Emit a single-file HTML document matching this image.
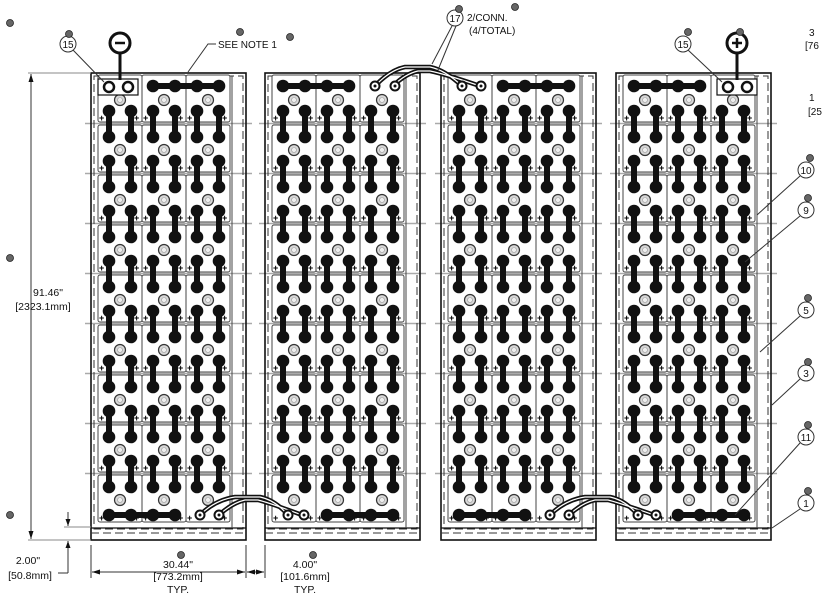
<!DOCTYPE html>
<html><head><meta charset="utf-8"><style>
html,body{margin:0;padding:0;background:#fff;}
svg{display:block;font-family:"Liberation Sans",sans-serif;}
</style></head><body>
<svg width="825" height="596" viewBox="0 0 825 596" xmlns="http://www.w3.org/2000/svg">
<defs>
  <g id="cell">
    <rect x="0" y="0" width="44" height="47" rx="2" fill="#fff" stroke="#444" stroke-width="1"/>
    <circle cx="22" cy="25" r="5.5" fill="#d8d8d8" stroke="#333" stroke-width="1.2"/>
    <circle cx="22" cy="25" r="2.5" fill="#eee" stroke="#999" stroke-width="0.6"/>
    <text x="1" y="46" font-size="9" font-weight="bold">+</text>
    <text x="36" y="46" font-size="9" font-weight="bold">+</text>
  </g>
  <g id="row">
    <use href="#cell" x="7" y="0"/><use href="#cell" x="51" y="0"/><use href="#cell" x="95" y="0"/>
  </g>
  <g id="link">
    <line x1="0" y1="0" x2="0" y2="26" stroke="#111" stroke-width="6"/>
    <circle cx="0" cy="0" r="6.3" fill="#111"/><circle cx="0" cy="26" r="6.3" fill="#111"/>
  </g>
  <g id="linkrow">
    <use href="#link" x="18"/><use href="#link" x="40"/><use href="#link" x="62"/>
    <use href="#link" x="84"/><use href="#link" x="106"/><use href="#link" x="128"/>
  </g>
  <g id="rack">
    <g stroke="#aaa" stroke-width="1.5">
      <line x1="-6" y1="50.5" x2="161" y2="50.5"/><line x1="-6" y1="100.5" x2="161" y2="100.5"/>
      <line x1="-6" y1="150.5" x2="161" y2="150.5"/><line x1="-6" y1="200.5" x2="161" y2="200.5"/>
      <line x1="-6" y1="250.5" x2="161" y2="250.5"/><line x1="-6" y1="300.5" x2="161" y2="300.5"/>
      <line x1="-6" y1="350.5" x2="161" y2="350.5"/><line x1="-6" y1="400.5" x2="161" y2="400.5"/>
    </g>
    <rect x="0" y="0" width="155" height="467" fill="none" stroke="#111" stroke-width="1.6"/>
    <rect x="3" y="3" width="149" height="453" fill="none" stroke="#333" stroke-width="1" stroke-dasharray="8,4"/>
    <line x1="0" y1="455" x2="155" y2="455" stroke="#111" stroke-width="1.2"/>
    <line x1="0" y1="460" x2="155" y2="460" stroke="#333" stroke-width="1" stroke-dasharray="8,4"/>
    <line x1="141" y1="3" x2="141" y2="455" stroke="#444" stroke-width="1"/>
    <use href="#row" y="2"/><use href="#row" y="52"/><use href="#row" y="102"/><use href="#row" y="152"/>
    <use href="#row" y="202"/><use href="#row" y="252"/><use href="#row" y="302"/><use href="#row" y="352"/><use href="#row" y="402"/>
    <use href="#linkrow" y="38"/><use href="#linkrow" y="88"/><use href="#linkrow" y="138"/><use href="#linkrow" y="188"/>
    <use href="#linkrow" y="238"/><use href="#linkrow" y="288"/><use href="#linkrow" y="338"/><use href="#linkrow" y="388"/>
  </g>
  <g id="bar2">
    <line x1="0" y1="0" x2="66" y2="0" stroke="#111" stroke-width="6"/>
    <circle cx="0" cy="0" r="6.3" fill="#111"/><circle cx="22" cy="0" r="6.3" fill="#111"/>
    <circle cx="44" cy="0" r="6.3" fill="#111"/><circle cx="66" cy="0" r="6.3" fill="#111"/>
  </g>
  <g id="lug">
    <circle cx="0" cy="0" r="4.5" fill="#fff" stroke="#111" stroke-width="2"/>
    <circle cx="0" cy="0" r="1.5" fill="#111"/>
  </g>
  <g id="term">
    <rect x="-3" y="-8" width="40" height="16" fill="#fff" stroke="#111" stroke-width="1.2"/>
    <circle cx="8" cy="0" r="5" fill="#fff" stroke="#111" stroke-width="2.5"/>
    <circle cx="27" cy="0" r="5" fill="#fff" stroke="#111" stroke-width="2.5"/>
  </g>
</defs>

<use href="#rack" x="91" y="73"/>
<use href="#rack" x="265" y="73"/>
<use href="#rack" x="441" y="73"/>
<use href="#rack" x="616" y="73"/>

<use href="#term" x="101" y="87"/>
<use href="#bar2" x="153" y="86"/>
<use href="#bar2" x="109" y="515"/>
<use href="#bar2" x="283" y="86"/>
<use href="#bar2" x="327" y="515"/>
<use href="#bar2" x="503" y="86"/>
<use href="#bar2" x="459" y="515"/>
<use href="#bar2" x="634" y="86"/>
<use href="#term" x="720" y="87"/>
<use href="#bar2" x="678" y="515"/>

<g fill="none" stroke-linecap="round">
  <g stroke="#111" stroke-width="4.5">
    <path d="M200 515 Q215 500 235 497 L 260 497 Q 275 500 288 515"/>
    <path d="M219 515 Q232 503 245 500 L 258 500 Q 270 503 302 515"/>
    <path d="M375 86 Q390 70 405 67 L 430 67 Q 445 70 462 86"/>
    <path d="M393 86 Q405 74 418 71 L 430 71 Q 445 74 480 86"/>
    <path d="M550 515 Q565 500 585 497 L 610 497 Q 625 500 638 515"/>
    <path d="M569 515 Q582 503 595 500 L 608 500 Q 620 503 654 515"/>
  </g>
  <g stroke="#fff" stroke-width="1.2">
    <path d="M200 515 Q215 500 235 497 L 260 497 Q 275 500 288 515"/>
    <path d="M219 515 Q232 503 245 500 L 258 500 Q 270 503 302 515"/>
    <path d="M375 86 Q390 70 405 67 L 430 67 Q 445 70 462 86"/>
    <path d="M393 86 Q405 74 418 71 L 430 71 Q 445 74 480 86"/>
    <path d="M550 515 Q565 500 585 497 L 610 497 Q 625 500 638 515"/>
    <path d="M569 515 Q582 503 595 500 L 608 500 Q 620 503 654 515"/>
  </g>
</g>
<use href="#lug" x="200" y="515"/><use href="#lug" x="219" y="515"/>
<use href="#lug" x="288" y="515"/><use href="#lug" x="304" y="515"/>
<use href="#lug" x="375" y="86"/><use href="#lug" x="395" y="86"/>
<use href="#lug" x="462" y="86"/><use href="#lug" x="481" y="86"/>
<use href="#lug" x="550" y="515"/><use href="#lug" x="569" y="515"/>
<use href="#lug" x="638" y="515"/><use href="#lug" x="656" y="515"/>

<line x1="120" y1="50" x2="120" y2="80" stroke="#111" stroke-width="3"/>
<circle cx="120" cy="43" r="10" fill="#fff" stroke="#111" stroke-width="3"/>
<line x1="115" y1="43" x2="125" y2="43" stroke="#111" stroke-width="2.5"/>
<line x1="737" y1="50" x2="737" y2="80" stroke="#111" stroke-width="3"/>
<circle cx="737" cy="43" r="10" fill="#fff" stroke="#111" stroke-width="3"/>
<line x1="732" y1="43" x2="742" y2="43" stroke="#111" stroke-width="2.5"/>
<line x1="737" y1="38" x2="737" y2="48" stroke="#111" stroke-width="2.5"/>

<g font-size="10" fill="#111" text-anchor="middle">
  <circle cx="68" cy="44" r="8" fill="#fff" stroke="#333"/><text x="68" y="48">15</text>
  <line x1="73" y1="50" x2="104" y2="82" stroke="#333"/>
  <circle cx="683" cy="44" r="8" fill="#fff" stroke="#333"/><text x="683" y="48">15</text>
  <line x1="688" y1="50" x2="722" y2="82" stroke="#333"/>
  <circle cx="455" cy="18" r="8" fill="#fff" stroke="#333"/><text x="455" y="22">17</text>
  <line x1="452" y1="26" x2="432" y2="64" stroke="#333"/>
  <line x1="456" y1="26" x2="438" y2="70" stroke="#333"/>
  <circle cx="806" cy="170" r="8" fill="#fff" stroke="#333"/><text x="806" y="174">10</text>
  <line x1="800" y1="176" x2="757" y2="215" stroke="#333"/>
  <circle cx="806" cy="210" r="8" fill="#fff" stroke="#333"/><text x="806" y="214">9</text>
  <line x1="800" y1="216" x2="745" y2="262" stroke="#333"/>
  <circle cx="806" cy="310" r="8" fill="#fff" stroke="#333"/><text x="806" y="314">5</text>
  <line x1="800" y1="316" x2="760" y2="352" stroke="#333"/>
  <circle cx="806" cy="373" r="8" fill="#fff" stroke="#333"/><text x="806" y="377">3</text>
  <line x1="800" y1="379" x2="772" y2="405" stroke="#333"/>
  <circle cx="806" cy="437" r="8" fill="#fff" stroke="#333"/><text x="806" y="441">11</text>
  <line x1="800" y1="443" x2="735" y2="515" stroke="#333"/>
  <circle cx="806" cy="503" r="8" fill="#fff" stroke="#333"/><text x="806" y="507">1</text>
  <line x1="800" y1="509" x2="772" y2="528" stroke="#333"/>
</g>
<g font-size="10" fill="#111">
  <text x="467" y="21">2/CONN.</text>
  <text x="469" y="34">(4/TOTAL)</text>
  <text x="218" y="48">SEE NOTE 1</text>
  <text x="809" y="36">3</text><text x="805" y="49">[76</text>
  <text x="809" y="101">1</text><text x="808" y="115">[25</text>
</g>
<path d="M216 44 L208 44 L188 72" fill="none" stroke="#333"/>

<g stroke="#333" stroke-width="1" fill="none">
  <line x1="28" y1="73" x2="91" y2="73" stroke="#888"/>
  <line x1="28" y1="540" x2="91" y2="540" stroke="#888"/>
  <line x1="64" y1="527" x2="91" y2="527" stroke="#888"/>
  <line x1="31" y1="74" x2="31" y2="539"/>
  <line x1="68" y1="512" x2="68" y2="526"/>
  <line x1="68" y1="541" x2="68" y2="573"/><line x1="58" y1="573" x2="68" y2="573"/>
  <line x1="91" y1="545" x2="91" y2="578"/>
  <line x1="246" y1="545" x2="246" y2="578"/>
  <line x1="265" y1="545" x2="265" y2="578"/>
  <line x1="92" y1="572" x2="245" y2="572"/>
  <line x1="247" y1="572" x2="264" y2="572"/>
</g>
<g fill="#111">
  <path d="M31 74 l-2.5 8 l5 0z"/><path d="M31 539 l-2.5 -8 l5 0z"/>
  <path d="M68 526 l-2.5 -7 l5 0z"/><path d="M68 541 l-2.5 7 l5 0z"/>
  <path d="M92 572 l8 -2.5 l0 5z"/><path d="M245 572 l-8 -2.5 l0 5z"/>
  <path d="M247 572 l8 -2.5 l0 5z"/><path d="M264 572 l-8 -2.5 l0 5z"/>
</g>
<g font-size="10.5" fill="#111" text-anchor="middle">
  <text x="48" y="296">91.46"</text>
  <text x="43" y="310">[2323.1mm]</text>
  <text x="28" y="564">2.00"</text>
  <text x="30" y="579">[50.8mm]</text>
  <text x="178" y="568">30.44"</text>
  <text x="178" y="580">[773.2mm]</text>
  <text x="178" y="593">TYP.</text>
  <text x="305" y="568">4.00"</text>
  <text x="305" y="580">[101.6mm]</text>
  <text x="305" y="593">TYP.</text>
</g>

<g fill="#666" stroke="#222" stroke-width="0.8">
  <circle cx="10" cy="23" r="3.5"/><circle cx="69" cy="34" r="3.5"/><circle cx="290" cy="37" r="3.5"/>
  <circle cx="459" cy="9" r="3.5"/><circle cx="515" cy="7" r="3.5"/><circle cx="688" cy="32" r="3.5"/>
  <circle cx="740" cy="32" r="3.5"/><circle cx="10" cy="258" r="3.5"/><circle cx="10" cy="515" r="3.5"/>
  <circle cx="181" cy="555" r="3.5"/><circle cx="313" cy="555" r="3.5"/><circle cx="810" cy="158" r="3.5"/>
  <circle cx="808" cy="198" r="3.5"/><circle cx="808" cy="298" r="3.5"/><circle cx="808" cy="362" r="3.5"/>
  <circle cx="808" cy="425" r="3.5"/><circle cx="808" cy="491" r="3.5"/><circle cx="240" cy="32" r="3.5"/>
</g>
</svg>
</body></html>
